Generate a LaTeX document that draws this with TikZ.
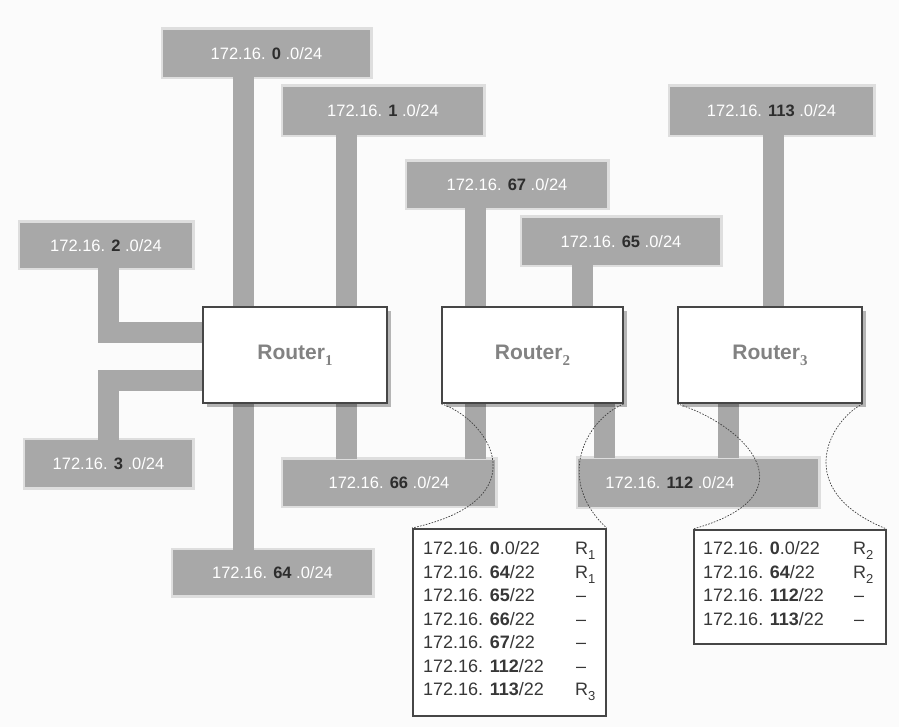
\documentclass[tikz,border=0pt]{standalone}
\usepackage{fontspec}
\setmainfont{Liberation Sans}
\newfontfamily\subserif{Liberation Serif}
\usetikzlibrary{shadows}
\definecolor{barcol}{RGB}{168,168,168}
\definecolor{numcol}{RGB}{45,45,45}
\definecolor{boxline}{RGB}{70,70,70}
\definecolor{routertext}{RGB}{130,130,130}
\definecolor{tabtext}{RGB}{55,55,55}
\definecolor{paper}{RGB}{251,251,251}
\newcommand{\net}[2]{172.16. {\bfseries\color{numcol}#1} #2}
\newcommand{\hopR}[1]{R\raisebox{-5pt}{\fontsize{13}{13}\selectfont #1}}
\newcommand{\rtr}[1]{Router\raisebox{-6pt}{\subserif\fontsize{15}{15}\selectfont #1}}
\begin{document}
\begin{tikzpicture}[x=1pt,y=-1pt,
  bar/.style={fill=barcol, inner sep=0pt, text=white,
    font=\fontsize{16.5}{18}\selectfont,
    preaction={draw=barcol, line width=5pt, draw opacity=0.35}},
  link/.style={draw=barcol, line width=21pt, line cap=butt, line join=miter},
  router/.style={draw=boxline, line width=1.6pt, fill=white, minimum width=184, minimum height=96,
    inner sep=0pt, text=routertext, font=\fontsize{21}{24}\selectfont\bfseries,
    drop shadow={shadow xshift=4pt, shadow yshift=-4pt, fill=black, opacity=0.28}},
  tabbox/.style={draw=boxline, line width=1.6pt, fill=white, inner sep=0pt, anchor=north west},
  tabtxt/.style={anchor=base west, inner sep=0pt, text=tabtext, font=\fontsize{18}{20}\selectfont},
  magline/.style={draw=black!75, line width=0.7pt, dash pattern=on 1.6pt off 1.4pt}]

\useasboundingbox (0,0) rectangle (899,727);
\fill[paper] (0,0) rectangle (899,727);

% networks
\node[bar, minimum width=207, minimum height=47] (n0)   at (266.5,53.5) {\net{0}{.0/24}};
\node[bar, minimum width=200, minimum height=48] (n1)   at (383,111)    {\net{1}{.0/24}};
\node[bar, minimum width=200, minimum height=46] (n67)  at (507,185)    {\net{67}{.0/24}};
\node[bar, minimum width=198, minimum height=47] (n65)  at (621,241.5)  {\net{65}{.0/24}};
\node[bar, minimum width=203, minimum height=48] (n113) at (771.5,111)  {\net{113}{.0/24}};
\node[bar, minimum width=172, minimum height=45] (n2)   at (106,245.5)  {\net{2}{.0/24}};
\node[bar, minimum width=167, minimum height=47] (n3)   at (108.5,463.5){\net{3}{.0/24}};
\node[bar, minimum width=199, minimum height=45] (n64)  at (272.5,572.5){\net{64}{.0/24}};
\node[bar, minimum width=212, minimum height=46] (n66)  at (389,482.5)  {\net{66}{.0/24}};
\node[bar, minimum width=240, minimum height=48] (n112) at (698,482.5)  {};
\node[bar, fill=none, preaction={}] (n112t) at (670,482.5) {\net{112}{.0/24}};

% routers (positions)
\coordinate (c0) at (243,0);
\coordinate (c1) at (346,0);
\coordinate (c67) at (475.5,0);
\coordinate (c65) at (582.5,0);
\coordinate (c65b) at (604,0);
\coordinate (c113) at (773,0);
\coordinate (c113b) at (728,0);
\coordinate (cl) at (108,0);
\coordinate (h2) at (0,332);
\coordinate (h3) at (0,380);

\coordinate (r1pos) at (295,355);
\coordinate (r2pos) at (532.5,355);
\coordinate (r3pos) at (770,355);

% connectors
\draw[link] (n0.south -| c0) -- (n64.north -| c0);
\draw[link] (n1.south -| c1) -- (n66.north -| c1);
\draw[link] (n67.south -| c67) -- (n66.north -| c67);
\draw[link] (n65.south -| c65) -- (r2pos -| c65);
\draw[link] (r2pos -| c65b) -- (n112.north -| c65b);
\draw[link] (n113.south -| c113) -- (r3pos -| c113);
\draw[link] (r3pos -| c113b) -- (n112.north -| c113b);
\draw[link] (n2.south -| cl) |- (r1pos |- h2);
\draw[link] (n3.north -| cl) |- (r1pos |- h3);

\node[router] (r1) at (r1pos) {\rtr{1}};
\node[router, minimum width=181] (r2) at (r2pos) {\rtr{2}};
\node[router] (r3) at (r3pos) {\rtr{3}};

% routing tables
\node[tabbox, minimum width=193, minimum height=187] (t1) at (412,528) {};
\node[tabbox, minimum width=192, minimum height=114] (t2) at (693,529) {};

\node[tabtxt] (a1) at (423,554.5) {172.16. \textbf{0}.0/22};
\node[tabtxt] (a2) at (423,578)   {172.16. \textbf{64}/22};
\node[tabtxt] (a3) at (423,601.5) {172.16. \textbf{65}/22};
\node[tabtxt] (a4) at (423,625)   {172.16. \textbf{66}/22};
\node[tabtxt] (a5) at (423,648.5) {172.16. \textbf{67}/22};
\node[tabtxt] (a6) at (423,672)   {172.16. \textbf{112}/22};
\node[tabtxt] (a7) at (423,695.5) {172.16. \textbf{113}/22};
\node[tabtxt] (b1) at (575,554.5) {\hopR{1}};
\node[tabtxt] (b2) at (575,578)   {\hopR{1}};
\node[tabtxt] (b3) at (576,601.5) {–};
\node[tabtxt] (b4) at (576,625)   {–};
\node[tabtxt] (b5) at (576,648.5) {–};
\node[tabtxt] (b6) at (576,672)   {–};
\node[tabtxt] (b7) at (575,695.5) {\hopR{3}};

\node[tabtxt] (d1) at (703,554.5) {172.16. \textbf{0}.0/22};
\node[tabtxt] (d2) at (703,578)   {172.16. \textbf{64}/22};
\node[tabtxt] (d3) at (703,601.5) {172.16. \textbf{112}/22};
\node[tabtxt] (d4) at (703,625)   {172.16. \textbf{113}/22};
\node[tabtxt] (e1) at (853,554.5) {\hopR{2}};
\node[tabtxt] (e2) at (853,578)   {\hopR{2}};
\node[tabtxt] (e3) at (854,601.5) {–};
\node[tabtxt] (e4) at (854,625)   {–};

% magnifier lines
\draw[magline] (r2.south west) .. controls (490,420) and (540,500) .. (t1.north west);
\draw[magline] (r2.south east) .. controls (585,420) and (555,480) .. (t1.north east);
\draw[magline] (r3.south west) .. controls (745,425) and (815,495) .. (t2.north west);
\draw[magline] (r3.south east) .. controls (830,420) and (790,490) .. (t2.north east);
\end{tikzpicture}
\end{document}
